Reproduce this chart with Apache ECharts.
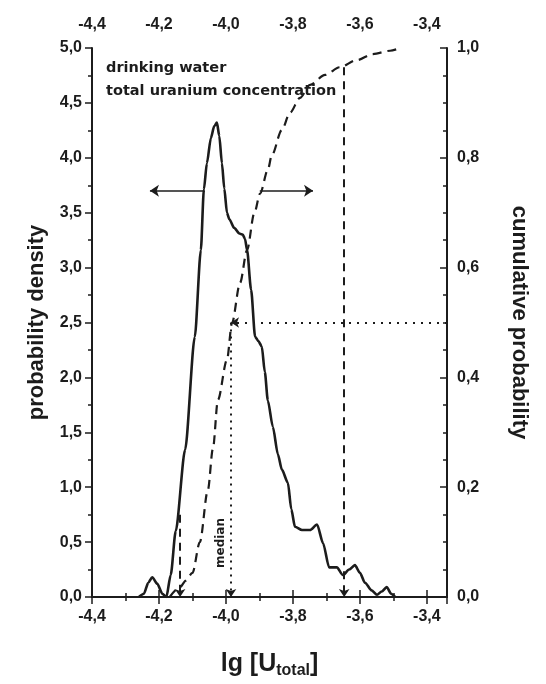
<!DOCTYPE html>
<html><head><meta charset="utf-8">
<script src="https://cdn.jsdelivr.net/npm/echarts@6/dist/echarts.min.js"></script>
<style>html,body{margin:0;padding:0;background:#fff}#c{width:546px;height:684px}</style>
</head><body><div id="c"></div>
<script>
// Probability density (left axis)
const densityX = [-4.26,-4.245,-4.232,-4.22,-4.205,-4.19,-4.178,-4.165,-4.15,-4.122,-4.093,-4.075,-4.066,-4.057,-4.045,-4.035,-4.027,-4.02,-4.012,-4.005,-3.997,-3.99,-3.975,-3.96,-3.95,-3.943,-3.937,-3.925,-3.913,-3.903,-3.893,-3.884,-3.875,-3.86,-3.845,-3.833,-3.815,-3.805,-3.794,-3.773,-3.749,-3.728,-3.71,-3.692,-3.669,-3.651,-3.632,-3.615,-3.6,-3.585,-3.565,-3.549,-3.535,-3.52,-3.507,-3.495];
const densityY = [0.0,0.03,0.13,0.18,0.12,0.03,0.0,0.2,0.6,1.34,2.37,3.16,3.71,3.95,4.18,4.29,4.32,4.2,3.95,3.72,3.5,3.44,3.36,3.31,3.3,3.26,3.16,2.8,2.37,2.33,2.28,2.05,1.79,1.55,1.3,1.16,1.04,0.8,0.64,0.61,0.61,0.66,0.49,0.27,0.27,0.2,0.25,0.29,0.22,0.13,0.06,0.02,0.05,0.09,0.03,0.0];
// Cumulative probability (right axis)
const cumX = [-4.168,-4.137,-4.12,-4.1,-4.078,-4.054,-4.039,-4.024,-3.997,-3.982,-3.958,-3.937,-3.915,-3.898,-3.875,-3.863,-3.833,-3.809,-3.779,-3.749,-3.704,-3.66,-3.609,-3.561,-3.51,-3.48];
const cumY = [0.0,0.018,0.03,0.044,0.1,0.195,0.27,0.359,0.432,0.499,0.572,0.632,0.7,0.735,0.778,0.805,0.851,0.882,0.909,0.933,0.951,0.965,0.978,0.989,0.995,1.0];
// Reference markers
const medianX = -3.985, medianP = 0.5;
const p95X = -3.647, p95Top = 0.965;
const p5X = -4.137, p5Top = 0.15;
const arrowLevel = 3.7;
const leftArrow = [-4.063, -4.227];
const rightArrow = [-3.899, -3.74];
// Axes
const xMin = -4.4, xMax = -3.34, xStep = 0.2;
const yMin = 0, yMax = 5, yStep = 0.5;
const pMin = 0, pMax = 1, pStep = 0.2;

const INK = '#1c1c1c';
const FONT = 'Liberation Sans';
const fmt = (d, step) => v => {
  const k = v / step;
  if (Math.abs(k - Math.round(k)) > 1e-6) return '';
  return v.toFixed(d).replace('.', ',');
};
const lab = {color: INK, fontFamily: FONT, fontWeight: 'bold', fontSize: 16};
const axLine = {lineStyle: {color: INK, width: 2}};

function xAx(pos, showName) {
  return {
    type: 'value', position: pos, min: xMin, max: xMax, interval: xStep,
    axisLine: axLine, splitLine: {show: false},
    axisTick: {show: true, inside: false, length: 7, lineStyle: {color: INK, width: 1.5}},
    minorTick: {show: true, splitNumber: 2, length: 4, lineStyle: {color: INK, width: 1.5}},
    axisLabel: Object.assign({margin: pos === 'top' ? 15 : 12, formatter: fmt(1, xStep), showMaxLabel: false}, lab),
    name: showName ? '{a|lg [U}{b|total}{a|]}' : '',
    nameLocation: 'middle', nameGap: 52,
    nameTextStyle: {rich: {
      a: {fontFamily: FONT, fontWeight: 'bold', fontSize: 25, color: INK},
      b: {fontFamily: FONT, fontWeight: 'bold', fontSize: 16, color: INK, padding: [14, 0, 0, 0]}
    }}
  };
}

const seriesData = (xs, ys) => xs.map((x, i) => [x, ys[i]]);

const option = {
  backgroundColor: '#fff',
  animation: false,
  grid: {left: 92, right: 99, top: 48, bottom: 87},
  xAxis: [xAx('bottom', true), xAx('top', false)],
  yAxis: [
    {type: 'value', position: 'left', min: yMin, max: yMax, interval: yStep,
     axisLine: Object.assign({show: true}, axLine), splitLine: {show: false},
     axisTick: {show: true, inside: false, length: 7, lineStyle: {color: INK, width: 1.5}},
     minorTick: {show: true, splitNumber: 2, length: 4, lineStyle: {color: INK, width: 1.5}},
     axisLabel: Object.assign({margin: 10, formatter: fmt(1, yStep)}, lab),
     name: 'probability density', nameLocation: 'middle', nameGap: 44, nameRotate: 90,
     nameTextStyle: {fontFamily: FONT, fontWeight: 'bold', fontSize: 22, color: INK}},
    {type: 'value', position: 'right', min: pMin, max: pMax, interval: pStep,
     axisLine: Object.assign({show: true}, axLine), splitLine: {show: false},
     axisTick: {show: true, inside: true, length: 7, lineStyle: {color: INK, width: 1.5}},
     minorTick: {show: true, splitNumber: 4, length: 4, lineStyle: {color: INK, width: 1.5}},
     axisLabel: Object.assign({margin: 10, formatter: fmt(1, pStep)}, lab),
     name: 'cumulative probability', nameLocation: 'middle', nameGap: 61, nameRotate: -90,
     nameTextStyle: {fontFamily: FONT, fontWeight: 'bold', fontSize: 22, color: INK}}
  ],
  series: [
    {type: 'line', xAxisIndex: 0, yAxisIndex: 0, showSymbol: false, smooth: 0.25, smoothMonotone: 'x',
     data: seriesData(densityX, densityY),
     lineStyle: {color: INK, width: 2.6},
     markLine: {silent: true, animation: false, label: {show: false}, symbolSize: 9,
       lineStyle: {color: INK, width: 1.6, type: 'solid'},
       data: [
         [{coord: [leftArrow[0], arrowLevel], symbol: 'none'}, {coord: [leftArrow[1], arrowLevel], symbol: 'arrow'}],
         [{coord: [rightArrow[0], arrowLevel], symbol: 'none'}, {coord: [rightArrow[1], arrowLevel], symbol: 'arrow'}]
       ]}
    },
    {type: 'line', xAxisIndex: 0, yAxisIndex: 1, showSymbol: false, smooth: 0.3, smoothMonotone: 'x',
     data: seriesData(cumX, cumY),
     lineStyle: {color: INK, width: 2.2, type: [9, 6]},
     markLine: {silent: true, animation: false, label: {show: false}, symbolSize: 8,
       data: [
         [{coord: [medianX, medianP], symbol: 'none', lineStyle: {color: INK, width: 2, type: [2, 5]}}, {coord: [medianX, 0], symbol: 'arrow'}],
         [{coord: [xMax, medianP], symbol: 'none', lineStyle: {color: INK, width: 2, type: [2, 6]}}, {coord: [medianX, medianP], symbol: 'arrow'}],
         [{coord: [p95X, p95Top], symbol: 'none', lineStyle: {color: INK, width: 2, type: [8, 6]}}, {coord: [p95X, 0], symbol: 'arrow'}],
         [{coord: [p5X, p5Top], symbol: 'none', lineStyle: {color: INK, width: 2, type: [8, 6]}}, {coord: [p5X, 0], symbol: 'arrow'}]
       ]}
    }
  ],
  graphic: [
    {type: 'text', left: 106, top: 61, style: {text: 'drinking water', fill: INK, font: 'bold 14.5px "DejaVu Sans"'}},
    {type: 'text', left: 106, top: 84, style: {text: 'total uranium concentration', fill: INK, font: 'bold 14.5px "DejaVu Sans"'}},
    {type: 'text', x: 221, y: 568, rotation: Math.PI / 2, style: {text: 'median', fill: INK, font: 'bold 12px "DejaVu Sans"', verticalAlign: 'middle'}}
  ]
};
echarts.init(document.getElementById('c'), null, {renderer: 'canvas'}).setOption(option);
</script>
</body></html>
